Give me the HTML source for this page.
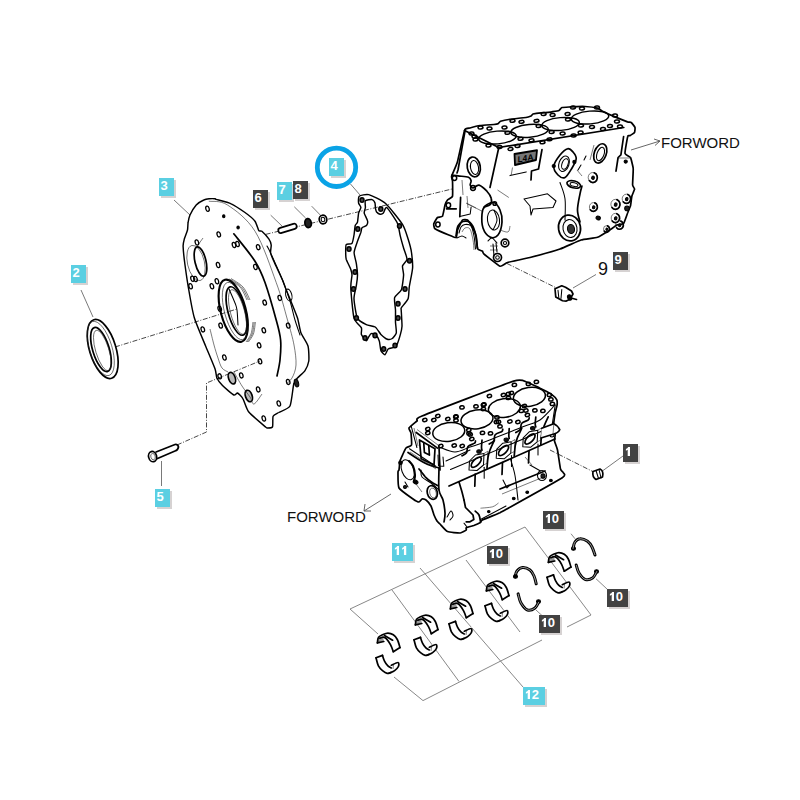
<!DOCTYPE html>
<html><head><meta charset="utf-8"><style>
html,body{margin:0;padding:0;background:#fff;width:800px;height:800px;overflow:hidden}
svg{display:block}
.ld{fill:none;stroke:#6a6a6a;stroke-width:0.9}
.lf{fill:none;stroke:#7a7a7a;stroke-width:0.9}
.dd{fill:none;stroke:#333;stroke-width:0.9;stroke-dasharray:5 1.6 1 1.6}
.ar{fill:none;stroke:#555;stroke-width:0.9}
.o{fill:none;stroke:#000;stroke-width:1.7;stroke-linejoin:round;stroke-linecap:round}
.o2{fill:none;stroke:#000;stroke-width:2.1;stroke-linecap:round}
.t{fill:none;stroke:#000;stroke-width:1.05;stroke-linejoin:round;stroke-linecap:round}
.t2{fill:none;stroke:#000;stroke-width:1.3}
.o3{fill:none;stroke:#000;stroke-width:3;stroke-linecap:round}
.w1{fill:none;stroke:#fff;stroke-width:0.6}
.wf{fill:#fff;stroke:#fff;stroke-width:2}
.t3{fill:none;stroke:#000;stroke-width:1.5}
.o14{fill:none;stroke:#000;stroke-width:1.45;stroke-linejoin:round;stroke-linecap:round}
.th{fill:none;stroke:#222;stroke-width:0.6}
.lt{font-family:"Liberation Sans",sans-serif;font-size:13px;font-weight:bold;fill:#fff}
.fw{font-family:"Liberation Sans",sans-serif;font-size:15px;fill:#111}
.n9{font-family:"Liberation Sans",sans-serif;font-size:18px;fill:#111}
</style></head><body>
<svg width="800" height="800" viewBox="0 0 800 800">
<rect width="800" height="800" fill="#fff"/>
<path d="M81 290 L93 317" class="ld"/>
<path d="M174 200 L190 215" class="ld"/>
<path d="M270.7 215.2 L282 226" class="ld"/>
<path d="M294.3 206.8 L305.6 218" class="ld"/>
<path d="M311.7 206.2 L321.6 216.4" class="ld"/>
<path d="M350.5 184 L360 195" class="ld"/>
<path d="M161.5 461 L161.5 486" class="ld"/>
<path d="M573 288 L596 274.5" class="ld"/>
<path d="M601 472 L623 456" class="ld"/>
<path d="M115 347 L237 309" class="dd"/>
<path d="M265.6 234.4 L452 189" class="dd"/>
<path d="M177 445 L206.5 432 L206.5 383 L260 361" class="dd"/>
<path d="M507 263.5 L556.5 288" class="dd"/>
<path d="M550 450 L594.7 472.5" class="dd"/>
<path d="M631 150 L660 141" class="ar"/>
<path d="M654 139 L660 141 L655 145.5" class="ar"/>
<path d="M391 494 L364 511" class="ar"/>
<path d="M365 504 L364 511 L371 511" class="ar"/>
<path d="M350 609 L525 527 L591 615 L567 627" class="lf"/>
<path d="M350 609 L378 634" class="lf"/>
<path d="M394 677 L423 700.6 L542 640" class="lf"/>
<path d="M392 590 L459 681.5" class="lf"/>
<path d="M420 568 L523 687" class="lf"/>
<path d="M466 560 L520 632" class="lf"/>
<path d="M571 533.75 L575 538.75" class="lf"/>
<path d="M596 578.75 L607 589" class="lf"/>
<path d="M536 610 L542.5 616" class="lf"/>
<ellipse cx="102.7" cy="349" rx="13.2" ry="30.6" transform="rotate(-17 102.7 349)" class="o" style="fill:#fff"/>
<ellipse cx="100.8" cy="348.5" rx="11.2" ry="28.2" transform="rotate(-17 100.8 348.5)" class="th"/>
<ellipse cx="101" cy="349.5" rx="8.25" ry="22.9" transform="rotate(-17 101 349.5)" class="o"/>
<ellipse cx="102.3" cy="350.5" rx="6.6" ry="21" transform="rotate(-17 102.3 350.5)" class="th"/>
<path d="M203.8 200.0 C205.0 199.4 207.9 198.9 209.0 198.8 C210.1 198.7 214.3 198.7 215.0 198.8 C215.7 198.8 214.6 198.9 216.2 199.4 C217.9 199.9 228.4 202.4 231.2 203.8 C234.1 205.1 242.6 210.8 245.0 212.5 C247.4 214.2 253.6 219.4 255.0 221.2 C256.4 223.1 258.1 229.6 258.8 230.6 C259.4 231.6 260.9 230.4 261.9 231.2 C262.9 232.1 267.8 237.4 268.8 238.8 C269.7 240.1 271.1 243.6 271.2 245.0 C271.4 246.4 270.3 251.2 270.6 253.0 C270.9 254.8 273.2 259.8 274.4 262.5 C275.6 265.2 281.3 277.2 282.5 280.0 C283.7 282.8 285.5 288.1 286.2 290.0 C287.0 291.9 288.9 296.2 290.0 299.0 C291.1 301.8 296.4 314.6 297.5 318.0 C298.6 321.4 299.9 330.2 301.0 333.0 C302.1 335.8 307.2 343.2 308.0 346.0 C308.8 348.8 309.1 358.5 308.8 361.0 C308.4 363.5 306.1 368.9 305.0 370.6 C303.9 372.3 298.6 376.7 297.5 378.0 C296.4 379.3 294.5 380.9 293.8 383.8 C293.0 386.6 291.5 403.1 290.0 406.0 C288.5 408.9 280.4 411.5 278.8 412.5 C277.1 413.5 273.7 414.8 273.1 416.2 C272.5 417.7 273.1 425.7 272.5 426.9 C271.9 428.1 268.2 428.0 267.5 428.0 C266.8 428.0 267.5 428.6 265.6 427.0 C263.7 425.4 251.0 414.8 248.8 412.0 C246.5 409.2 244.1 400.6 243.0 398.8 C241.9 396.9 238.4 393.4 237.5 393.0 C236.6 392.6 235.2 395.7 233.8 395.0 C232.2 394.3 224.2 387.3 222.5 385.6 C220.8 383.9 217.7 379.7 216.9 378.0 C216.2 376.3 216.1 371.9 215.0 368.8 C213.9 365.6 207.7 351.1 205.6 346.0 C203.5 340.9 196.1 323.6 194.4 318.0 C192.7 312.4 189.7 295.3 188.8 290.0 C187.8 284.7 185.6 269.4 185.0 265.0 C184.4 260.6 183.2 248.9 183.1 246.2 C183.0 243.6 184.0 240.4 184.4 238.8 C184.8 237.1 187.1 231.6 187.5 230.0 C187.9 228.4 187.8 224.0 188.1 222.5 C188.3 221.0 189.2 216.8 190.0 215.0 C190.8 213.2 194.9 206.5 196.2 205.0 C197.6 203.5 202.5 200.6 203.8 200.0 Z" class="o14"/>
<path d="M233.8 233.8 C237.3 238.3 249.8 253.1 255.0 261.2 C260.2 269.4 261.5 272.7 265.0 282.5 C268.5 292.3 273.6 310.4 276.2 320.0 C278.9 329.6 280.0 333.3 280.6 340.0 C281.2 346.7 280.6 354.0 280.0 360.0 C279.4 366.0 277.5 373.3 277.0 376.0" class="o"/>
<path d="M267.0 246.0 C267.6 247.2 268.0 247.3 270.6 253.0 C273.2 258.7 279.3 272.0 282.5 280.0 C285.7 288.0 287.9 294.3 290.0 301.0 C292.1 307.7 293.3 314.3 295.0 320.0 C296.7 325.7 299.2 332.5 300.0 335.0" class="t"/>
<path d="M208.8 201.2 C211.9 201.9 219.8 200.0 227.5 205.0 C235.2 210.0 246.9 218.3 255.0 231.2 C263.1 244.2 270.8 267.7 276.2 282.5 C281.7 297.3 284.5 309.6 287.5 320.0 C290.5 330.4 292.6 337.5 294.0 345.0 C295.4 352.5 296.3 359.5 296.0 365.0 C295.7 370.5 293.7 374.8 292.0 378.0 C290.3 381.2 287.0 383.0 286.0 384.0" class="th"/>
<ellipse cx="196" cy="263" rx="8.5" ry="18" transform="rotate(-13 196 263)" class="th"/>
<ellipse cx="200.5" cy="261.5" rx="5.5" ry="15" transform="rotate(-13 200.5 261.5)" class="o"/>
<path d="M198.0 245.0 L203.0 238.0" class="th"/>
<ellipse cx="233.25" cy="310.75" rx="12.5" ry="32" transform="rotate(-15 233.25 310.75)" class="o2"/>
<ellipse cx="235" cy="311" rx="10.5" ry="29.5" transform="rotate(-15 235 311)" class="th"/>
<ellipse cx="236.5" cy="311" rx="8.5" ry="25" transform="rotate(-15 236.5 311)" class="o"/>
<ellipse cx="237.5" cy="312" rx="7" ry="23" transform="rotate(-15 237.5 312)" class="th"/>
<path d="M229.0 289.0 C230.0 291.3 233.7 299.5 235.0 303.0 C236.3 306.5 236.5 306.3 237.0 310.0 C237.5 313.7 237.8 322.5 238.0 325.0" class="t"/>
<path d="M228.0 279.5 C230.0 280.8 236.8 283.6 240.0 287.0 C243.2 290.4 245.8 297.8 247.0 300.0" class="th"/>
<path d="M253.0 322.0 C252.7 324.0 252.2 330.7 251.0 334.0 C249.8 337.3 246.8 340.7 246.0 342.0" class="th"/>
<path d="M229.5 279.0 C231.5 280.3 238.3 283.5 241.5 287.0 C244.7 290.5 247.3 297.8 248.5 300.0" class="th"/>
<path d="M254.2 322.0 C253.9 324.0 253.4 330.7 252.2 334.0 C251.0 337.3 248.0 340.7 247.2 342.0" class="th"/>
<path d="M231.0 278.5 C233.0 279.9 239.8 283.4 243.0 287.0 C246.2 290.6 248.8 297.8 250.0 300.0" class="th"/>
<path d="M255.4 322.0 C255.1 324.0 254.6 330.7 253.4 334.0 C252.2 337.3 249.2 340.7 248.4 342.0" class="th"/>
<ellipse cx="288.75" cy="295" rx="3" ry="6" transform="rotate(-15 288.75 295)" class="t"/>
<ellipse cx="296.5" cy="383" rx="2" ry="4" transform="rotate(-15 296.5 383)" class="t" style="fill:#222"/>
<ellipse cx="207.5" cy="208.75" rx="1.7" ry="2.6" transform="rotate(-15 207.5 208.75)" class="t2"/>
<ellipse cx="218.75" cy="234.4" rx="1.7" ry="2.6" transform="rotate(-15 218.75 234.4)" class="t2"/>
<ellipse cx="234" cy="245" rx="1.7" ry="2.6" transform="rotate(-15 234 245)" class="t2"/>
<ellipse cx="237.5" cy="244" rx="1.7" ry="2.6" transform="rotate(-15 237.5 244)" class="t2"/>
<ellipse cx="258.2" cy="247.2" rx="1.7" ry="2.6" transform="rotate(-15 258.2 247.2)" class="t2"/>
<ellipse cx="255.4" cy="267" rx="1.7" ry="2.6" transform="rotate(-15 255.4 267)" class="t2"/>
<ellipse cx="218.1" cy="265" rx="1.7" ry="2.6" transform="rotate(-15 218.1 265)" class="t2"/>
<ellipse cx="196.9" cy="242.5" rx="1.7" ry="2.6" transform="rotate(-15 196.9 242.5)" class="t2"/>
<ellipse cx="192.5" cy="278.75" rx="1.7" ry="2.6" transform="rotate(-15 192.5 278.75)" class="t2"/>
<ellipse cx="195.5" cy="279" rx="1.7" ry="2.6" transform="rotate(-15 195.5 279)" class="t2"/>
<ellipse cx="190.6" cy="286.25" rx="1.7" ry="2.6" transform="rotate(-15 190.6 286.25)" class="t2"/>
<ellipse cx="211.9" cy="286.25" rx="1.7" ry="2.6" transform="rotate(-15 211.9 286.25)" class="t2"/>
<ellipse cx="216.9" cy="281.25" rx="1.7" ry="2.6" transform="rotate(-15 216.9 281.25)" class="t2"/>
<ellipse cx="264.7" cy="302.6" rx="1.7" ry="2.6" transform="rotate(-15 264.7 302.6)" class="t2"/>
<ellipse cx="279.75" cy="297.9" rx="1.7" ry="2.6" transform="rotate(-15 279.75 297.9)" class="t2"/>
<ellipse cx="219.7" cy="308.75" rx="1.7" ry="2.6" transform="rotate(-15 219.7 308.75)" class="t2"/>
<ellipse cx="202.8" cy="329.4" rx="1.7" ry="2.6" transform="rotate(-15 202.8 329.4)" class="t2"/>
<ellipse cx="220.65" cy="325.6" rx="1.7" ry="2.6" transform="rotate(-15 220.65 325.6)" class="t2"/>
<ellipse cx="263.8" cy="330.3" rx="1.7" ry="2.6" transform="rotate(-15 263.8 330.3)" class="t2"/>
<ellipse cx="288.2" cy="325.6" rx="1.7" ry="2.6" transform="rotate(-15 288.2 325.6)" class="t2"/>
<ellipse cx="259.1" cy="345.3" rx="1.7" ry="2.6" transform="rotate(-15 259.1 345.3)" class="t2"/>
<ellipse cx="224.4" cy="357.5" rx="1.7" ry="2.6" transform="rotate(-15 224.4 357.5)" class="t2"/>
<ellipse cx="260" cy="361.3" rx="1.7" ry="2.6" transform="rotate(-15 260 361.3)" class="t2"/>
<ellipse cx="219.7" cy="376.3" rx="1.7" ry="2.6" transform="rotate(-15 219.7 376.3)" class="t2"/>
<ellipse cx="241.3" cy="375.4" rx="1.7" ry="2.6" transform="rotate(-15 241.3 375.4)" class="t2"/>
<ellipse cx="258.2" cy="389.4" rx="1.7" ry="2.6" transform="rotate(-15 258.2 389.4)" class="t2"/>
<ellipse cx="288.2" cy="381.9" rx="1.7" ry="2.6" transform="rotate(-15 288.2 381.9)" class="t2"/>
<ellipse cx="278.8" cy="403.5" rx="1.7" ry="2.6" transform="rotate(-15 278.8 403.5)" class="t2"/>
<ellipse cx="263.8" cy="418.5" rx="1.7" ry="2.6" transform="rotate(-15 263.8 418.5)" class="t2"/>
<ellipse cx="223.75" cy="216.25" rx="1.2" ry="1.4" transform="rotate(0 223.75 216.25)" class="t" style="fill:#000"/>
<ellipse cx="238.1" cy="227.5" rx="1.2" ry="1.4" transform="rotate(0 238.1 227.5)" class="t" style="fill:#000"/>
<ellipse cx="231.9" cy="378.2" rx="3.3" ry="6" transform="rotate(-20 231.9 378.2)" class="o" style="fill:#bbb"/>
<ellipse cx="248.8" cy="396" rx="3.3" ry="6" transform="rotate(-20 248.8 396)" class="o" style="fill:#bbb"/>
<path d="M234.0 372.0 C235.3 374.3 239.3 381.8 242.0 386.0 C244.7 390.2 248.0 394.0 250.0 397.0 C252.0 400.0 252.0 404.5 254.0 404.0 C256.0 403.5 260.7 395.7 262.0 394.0" class="th"/>
<path d="M210.0 329.0 C210.7 331.7 212.7 340.2 214.0 345.0 C215.3 349.8 216.7 354.2 218.0 358.0 C219.3 361.8 220.3 365.7 222.0 368.0 C223.7 370.3 227.0 371.3 228.0 372.0" class="th"/>
<rect x="278" y="225.8" width="19" height="5.2" rx="2.6" transform="rotate(-17 287.5 228.4)" class="o" style="fill:#fff"/>
<ellipse cx="308.1" cy="223.1" rx="3.2" ry="4.5" transform="rotate(-10 308.1 223.1)" class="o" style="fill:#222"/>
<ellipse cx="323" cy="219.5" rx="3.8" ry="4.3" transform="rotate(-10 323 219.5)" class="o" style="fill:#fff"/>
<ellipse cx="323" cy="219.5" rx="1.8" ry="2.3" transform="rotate(-10 323 219.5)" class="t"/>
<path d="M156 452 L175 444.5 Q178 444 178.5 447 Q178 450 175 451 L157.5 458.5" class="o" style="fill:#fff"/>
<ellipse cx="152.6" cy="456.6" rx="4" ry="5.2" transform="rotate(-15 152.6 456.6)" class="o" style="fill:#fff"/>
<ellipse cx="153" cy="456.6" rx="2.2" ry="3.2" transform="rotate(-15 153 456.6)" class="th"/>
<path d="M359.2 196.2 C360.2 195.4 366.1 193.9 368.7 194.6 C371.3 195.3 382.2 200.5 385.6 203.5 C389.0 206.5 400.2 220.8 402.5 224.4 C404.8 228.0 407.2 236.2 408.1 239.0 C409.0 241.8 411.1 249.6 411.5 252.5 C411.9 255.4 412.8 264.5 412.6 268.0 C412.4 271.5 409.6 284.4 409.2 287.5 C408.8 290.6 408.9 296.7 408.1 298.7 C407.3 300.7 402.1 306.6 401.4 307.7 C400.7 308.8 401.1 308.1 401.2 310.0 C401.3 311.9 402.1 323.9 402.0 326.3 C401.9 328.7 400.9 332.6 400.4 334.4 C399.9 336.2 397.8 342.8 397.2 344.1 C396.6 345.4 394.8 346.9 393.9 347.4 C393.0 347.9 389.1 348.3 388.2 349.0 C387.3 349.7 385.7 354.5 385.0 354.7 C384.3 354.9 381.5 352.0 380.9 350.6 C380.3 349.3 379.9 342.5 379.3 340.9 C378.7 339.3 376.0 335.1 375.2 334.4 C374.4 333.7 371.8 333.4 371.1 333.6 C370.5 333.8 369.2 336.1 368.7 336.8 C368.2 337.5 367.0 341.1 366.3 340.9 C365.6 340.7 361.9 335.7 361.4 334.4 C360.9 333.1 362.1 329.5 361.4 327.9 C360.7 326.3 355.1 322.1 354.0 318.1 C352.9 314.1 350.9 291.8 350.8 287.5 C350.6 283.2 352.0 276.8 352.0 275.0 C352.0 273.2 351.3 271.0 350.8 269.4 C350.2 267.8 346.8 260.9 346.2 259.2 C345.7 257.5 345.7 254.0 345.7 252.5 C345.7 251.0 345.6 245.5 346.2 244.6 C346.9 243.7 351.1 244.5 351.9 243.5 C352.7 242.5 353.8 236.3 354.1 234.5 C354.4 232.7 354.9 226.7 355.2 225.5 C355.6 224.3 357.2 223.3 357.5 222.1 C357.8 220.9 358.3 214.6 358.6 213.1 C358.9 211.6 360.9 208.5 360.9 207.5 C360.9 206.5 358.8 204.1 358.6 203.0 C358.4 201.9 358.2 197.1 359.2 196.2 Z" class="o14"/>
<path d="M365.4 200.8 C366.1 200.0 371.1 199.4 372.1 199.6 C373.1 199.8 374.7 202.1 375.0 203.0 C375.3 203.9 375.3 207.7 375.5 208.6 C375.7 209.5 376.2 211.4 376.6 212.0 C377.1 212.6 379.3 214.1 380.0 214.2 C380.7 214.4 382.7 213.8 383.4 213.1 C384.1 212.4 385.4 206.5 386.8 207.5 C388.1 208.5 396.1 220.4 397.4 223.2 C398.7 226.0 399.6 233.1 400.2 235.6 C400.8 238.1 402.9 245.6 403.6 248.0 C404.3 250.4 407.1 257.4 407.0 259.2 C406.9 261.0 402.8 264.4 402.5 266.0 C402.2 267.6 403.7 272.6 403.6 275.0 C403.5 277.4 402.3 287.4 401.4 289.7 C400.5 292.0 395.2 295.6 394.6 297.6 C394.0 299.6 395.4 307.5 395.5 310.0 C395.6 312.5 395.4 319.9 395.5 322.2 C395.6 324.5 396.6 331.2 396.3 332.8 C396.0 334.4 393.2 337.9 392.3 338.5 C391.4 339.1 388.5 339.7 387.4 339.3 C386.3 338.9 382.1 335.6 380.9 334.4 C379.7 333.2 376.7 328.0 375.2 327.0 C373.7 326.0 368.1 325.5 366.3 324.6 C364.5 323.7 358.5 320.7 357.3 318.1 C356.1 315.5 354.1 302.0 354.0 298.7 C353.9 295.4 356.0 287.6 356.4 285.2 C356.8 282.8 357.5 277.1 357.5 275.0 C357.5 272.9 356.7 266.0 356.4 263.8 C356.1 261.5 354.0 254.8 354.1 252.5 C354.2 250.2 356.8 243.2 357.5 241.2 C358.2 239.2 360.4 233.6 360.9 232.2 C361.3 230.9 361.4 228.4 362.0 227.8 C362.6 227.1 365.9 226.2 366.5 225.5 C367.1 224.8 367.8 222.2 367.6 221.0 C367.4 219.8 364.5 214.4 364.2 213.1 C364.0 211.8 365.3 208.7 365.4 207.5 C365.5 206.3 364.7 201.5 365.4 200.8 Z" class="o14"/>
<ellipse cx="362" cy="200" rx="2" ry="2.3" transform="rotate(0 362 200)" class="t3" style="fill:#444"/>
<ellipse cx="380.8" cy="209" rx="2" ry="2.3" transform="rotate(0 380.8 209)" class="t3" style="fill:#444"/>
<ellipse cx="399.5" cy="226" rx="2" ry="2.3" transform="rotate(0 399.5 226)" class="t3" style="fill:#444"/>
<ellipse cx="357.8" cy="229" rx="2" ry="2.3" transform="rotate(0 357.8 229)" class="t3" style="fill:#444"/>
<ellipse cx="349" cy="249" rx="2" ry="2.3" transform="rotate(0 349 249)" class="t3" style="fill:#444"/>
<ellipse cx="409.5" cy="260.7" rx="2" ry="2.3" transform="rotate(0 409.5 260.7)" class="t3" style="fill:#444"/>
<ellipse cx="355" cy="272" rx="2" ry="2.3" transform="rotate(0 355 272)" class="t3" style="fill:#444"/>
<ellipse cx="353.5" cy="289" rx="2" ry="2.3" transform="rotate(0 353.5 289)" class="t3" style="fill:#444"/>
<ellipse cx="405" cy="289" rx="2" ry="2.3" transform="rotate(0 405 289)" class="t3" style="fill:#444"/>
<ellipse cx="398" cy="303.8" rx="2" ry="2.3" transform="rotate(0 398 303.8)" class="t3" style="fill:#444"/>
<ellipse cx="398" cy="318" rx="2" ry="2.3" transform="rotate(0 398 318)" class="t3" style="fill:#444"/>
<ellipse cx="356.4" cy="318" rx="2" ry="2.3" transform="rotate(0 356.4 318)" class="t3" style="fill:#444"/>
<ellipse cx="365" cy="338" rx="2" ry="2.3" transform="rotate(0 365 338)" class="t3" style="fill:#444"/>
<ellipse cx="375" cy="335.4" rx="2" ry="2.3" transform="rotate(0 375 335.4)" class="t3" style="fill:#444"/>
<ellipse cx="383.7" cy="349" rx="2" ry="2.3" transform="rotate(0 383.7 349)" class="t3" style="fill:#444"/>
<ellipse cx="395" cy="345.5" rx="2" ry="2.3" transform="rotate(0 395 345.5)" class="t3" style="fill:#444"/>
<path d="M464.6 130.2 C465.4 128.0 469.0 128.3 470.0 128.0 C471.0 127.7 478.4 125.7 480.0 125.5 C481.6 125.3 492.8 124.6 494.0 124.5 C495.2 124.4 497.6 124.0 498.0 123.8 C498.4 123.6 499.6 121.5 500.5 121.2 C501.4 120.9 510.3 119.2 512.0 119.0 C513.7 118.8 524.7 117.7 526.0 117.5 C527.3 117.3 530.5 116.2 531.0 116.0 C531.5 115.8 532.3 114.2 533.0 114.0 C533.7 113.8 539.7 112.9 541.0 112.8 C542.3 112.7 550.8 112.0 552.0 111.8 C553.2 111.6 558.3 110.8 559.0 110.5 C559.7 110.2 561.2 107.7 562.0 107.5 C562.8 107.3 569.7 107.0 571.2 106.9 C572.8 106.8 583.2 106.4 585.0 106.5 C586.8 106.6 596.3 107.8 597.5 108.1 C598.7 108.4 601.3 110.7 602.5 111.2 C603.7 111.8 613.3 116.2 615.0 116.9 C616.7 117.6 626.4 121.5 627.5 121.9 C628.6 122.3 630.8 122.1 631.2 122.5 C631.8 122.9 634.8 126.8 635.0 127.5 C635.2 128.2 634.8 132.0 634.5 132.5 C634.2 133.0 630.5 135.4 630.0 135.6 C629.5 135.8 628.1 135.0 627.8 136.2 C627.4 137.4 624.8 152.0 625.0 153.4 C625.2 154.8 630.0 156.5 630.5 157.5 C631.0 158.5 633.1 166.7 633.2 168.5 C633.4 170.3 632.5 183.6 632.6 185.0 C632.7 186.4 634.6 188.4 634.6 189.1 C634.6 189.8 632.2 194.9 631.9 196.0 C631.6 197.1 630.8 204.6 630.5 205.7 C630.2 206.8 628.2 211.3 627.8 212.5 C627.3 213.7 624.3 222.7 623.6 223.5 C622.9 224.3 617.6 224.6 616.8 225.0 C616.0 225.4 612.6 228.2 611.3 229.0 C610.0 229.8 599.5 236.6 597.5 237.3 C595.5 238.0 583.5 239.2 581.0 240.0 C578.5 240.8 563.4 247.8 560.0 249.0 C556.6 250.2 533.5 256.6 530.0 257.5 C526.5 258.4 509.5 261.9 507.5 262.5 C505.5 263.1 501.6 266.8 500.0 266.2 C498.4 265.7 484.9 254.8 483.8 253.8 C482.6 252.8 482.9 251.6 482.5 251.2 C482.1 250.9 477.9 249.8 477.5 248.8 C477.1 247.8 476.6 237.7 476.2 236.2 C475.9 234.8 473.1 228.6 472.5 227.5 C471.9 226.4 468.2 220.5 467.5 220.0 C466.8 219.5 463.2 219.3 462.5 220.0 C461.8 220.7 457.9 228.8 457.5 230.0 C457.1 231.2 456.8 237.2 456.2 237.5 C455.7 237.8 450.2 235.6 448.8 235.0 C447.3 234.4 436.0 229.5 435.0 228.8 C434.0 228.0 433.6 224.5 433.8 223.8 C433.9 223.0 436.9 218.0 437.5 217.5 C438.1 217.0 442.0 217.1 442.5 216.2 C443.0 215.4 444.7 206.1 445.0 205.0 C445.3 203.9 447.0 200.6 447.5 200.0 C448.0 199.4 452.2 197.5 452.5 196.2 C452.8 195.0 452.6 182.3 452.5 181.0 C452.4 179.7 451.3 177.5 451.6 176.2 C451.9 175.0 456.5 165.0 457.4 161.9 C458.3 158.8 463.8 132.5 464.6 130.2 Z" class="o"/>
<path d="M464.6 130.5 L498.8 147.5 L623.8 127.5" class="o"/>
<path d="M498.8 147.5 L490.0 187.5" class="o"/>
<path d="M465.0 131.0 L458.0 170.0 L457.0 173.0" class="o"/>
<path d="M623.6 136.5 L620.9 154.8 L618.1 157.5 L616.0 171.2" class="o"/>
<ellipse cx="625.7" cy="161.6" rx="1.6" ry="1.6" transform="rotate(0 625.7 161.6)" class="t" style="fill:#000"/>
<path d="M619.0 158.0 L631.0 158.0" class="th"/>
<ellipse cx="497.5" cy="137.5" rx="18.8" ry="6.4" transform="rotate(-5 497.5 137.5)" class="t3"/>
<ellipse cx="529.5" cy="130.8" rx="18.8" ry="6.4" transform="rotate(-5 529.5 130.8)" class="t3"/>
<ellipse cx="560.6" cy="124" rx="18.8" ry="6.4" transform="rotate(-5 560.6 124)" class="t3"/>
<ellipse cx="590" cy="117.5" rx="18.8" ry="6.4" transform="rotate(-5 590 117.5)" class="t3"/>
<ellipse cx="480.5" cy="127.5" rx="2.5" ry="1.4" transform="rotate(-6 480.5 127.5)" class="t3"/>
<ellipse cx="489.5" cy="128.5" rx="2.5" ry="1.4" transform="rotate(-6 489.5 128.5)" class="t3"/>
<ellipse cx="504.5" cy="127.5" rx="2.5" ry="1.4" transform="rotate(-6 504.5 127.5)" class="t3"/>
<ellipse cx="475.5" cy="139.5" rx="2.5" ry="1.4" transform="rotate(-6 475.5 139.5)" class="t3"/>
<ellipse cx="488.5" cy="145.5" rx="2.5" ry="1.4" transform="rotate(-6 488.5 145.5)" class="t3"/>
<ellipse cx="499.5" cy="147.0" rx="2.5" ry="1.4" transform="rotate(-6 499.5 147.0)" class="t3"/>
<ellipse cx="510.5" cy="149.0" rx="2.5" ry="1.4" transform="rotate(-6 510.5 149.0)" class="t3"/>
<ellipse cx="517.5" cy="146.0" rx="2.5" ry="1.4" transform="rotate(-6 517.5 146.0)" class="t3"/>
<ellipse cx="471.5" cy="133.5" rx="2.5" ry="1.4" transform="rotate(-6 471.5 133.5)" class="t3"/>
<ellipse cx="474.5" cy="136.5" rx="2.5" ry="1.4" transform="rotate(-6 474.5 136.5)" class="t3"/>
<ellipse cx="512.5" cy="120.8" rx="2.5" ry="1.4" transform="rotate(-6 512.5 120.8)" class="t3"/>
<ellipse cx="521.5" cy="121.8" rx="2.5" ry="1.4" transform="rotate(-6 521.5 121.8)" class="t3"/>
<ellipse cx="536.5" cy="120.8" rx="2.5" ry="1.4" transform="rotate(-6 536.5 120.8)" class="t3"/>
<ellipse cx="507.5" cy="132.8" rx="2.5" ry="1.4" transform="rotate(-6 507.5 132.8)" class="t3"/>
<ellipse cx="520.5" cy="138.8" rx="2.5" ry="1.4" transform="rotate(-6 520.5 138.8)" class="t3"/>
<ellipse cx="531.5" cy="140.3" rx="2.5" ry="1.4" transform="rotate(-6 531.5 140.3)" class="t3"/>
<ellipse cx="542.5" cy="142.3" rx="2.5" ry="1.4" transform="rotate(-6 542.5 142.3)" class="t3"/>
<ellipse cx="549.5" cy="139.3" rx="2.5" ry="1.4" transform="rotate(-6 549.5 139.3)" class="t3"/>
<ellipse cx="543.6" cy="114" rx="2.5" ry="1.4" transform="rotate(-6 543.6 114)" class="t3"/>
<ellipse cx="552.6" cy="115" rx="2.5" ry="1.4" transform="rotate(-6 552.6 115)" class="t3"/>
<ellipse cx="567.6" cy="114" rx="2.5" ry="1.4" transform="rotate(-6 567.6 114)" class="t3"/>
<ellipse cx="538.6" cy="126" rx="2.5" ry="1.4" transform="rotate(-6 538.6 126)" class="t3"/>
<ellipse cx="551.6" cy="132" rx="2.5" ry="1.4" transform="rotate(-6 551.6 132)" class="t3"/>
<ellipse cx="562.6" cy="133.5" rx="2.5" ry="1.4" transform="rotate(-6 562.6 133.5)" class="t3"/>
<ellipse cx="573.6" cy="135.5" rx="2.5" ry="1.4" transform="rotate(-6 573.6 135.5)" class="t3"/>
<ellipse cx="580.6" cy="132.5" rx="2.5" ry="1.4" transform="rotate(-6 580.6 132.5)" class="t3"/>
<ellipse cx="573" cy="107.5" rx="2.5" ry="1.4" transform="rotate(-6 573 107.5)" class="t3"/>
<ellipse cx="582" cy="108.5" rx="2.5" ry="1.4" transform="rotate(-6 582 108.5)" class="t3"/>
<ellipse cx="597" cy="107.5" rx="2.5" ry="1.4" transform="rotate(-6 597 107.5)" class="t3"/>
<ellipse cx="568" cy="119.5" rx="2.5" ry="1.4" transform="rotate(-6 568 119.5)" class="t3"/>
<ellipse cx="581" cy="125.5" rx="2.5" ry="1.4" transform="rotate(-6 581 125.5)" class="t3"/>
<ellipse cx="592" cy="127.0" rx="2.5" ry="1.4" transform="rotate(-6 592 127.0)" class="t3"/>
<ellipse cx="603" cy="129.0" rx="2.5" ry="1.4" transform="rotate(-6 603 129.0)" class="t3"/>
<ellipse cx="610" cy="126.0" rx="2.5" ry="1.4" transform="rotate(-6 610 126.0)" class="t3"/>
<ellipse cx="615" cy="115.5" rx="2.5" ry="1.4" transform="rotate(-6 615 115.5)" class="t3"/>
<ellipse cx="617" cy="121.5" rx="2.5" ry="1.4" transform="rotate(-6 617 121.5)" class="t3"/>
<ellipse cx="620" cy="126.5" rx="2.5" ry="1.4" transform="rotate(-6 620 126.5)" class="t3"/>
<ellipse cx="473.75" cy="166.9" rx="6.5" ry="10" transform="rotate(-10 473.75 166.9)" class="o"/>
<ellipse cx="474.5" cy="167.5" rx="4" ry="7" transform="rotate(-10 474.5 167.5)" class="t"/>
<path d="M452.0 175.0 C453.0 175.2 455.2 175.5 458.0 175.9 C460.8 176.3 466.3 176.4 468.5 177.2 C470.7 178.1 470.8 179.4 471.1 180.8 C471.4 182.1 469.9 183.9 470.2 185.1 C470.6 186.3 471.5 188.0 473.0 188.0 C474.5 188.0 476.7 184.6 479.0 185.1 C481.3 185.6 484.9 189.1 486.9 191.2 C488.9 193.4 490.7 196.1 491.2 198.2 C491.8 200.4 491.6 202.9 490.4 204.4 C489.2 205.9 485.3 206.6 484.2 207.0" class="o"/>
<path d="M460.6 197.4 C460.5 200.6 459.9 213.4 459.8 216.6" class="o"/>
<path d="M446.6 208.8 L456.2 208.8" class="o"/>
<path d="M466.8 203.5 L482.5 211.4" class="th"/>
<path d="M459.8 216.6 L470.2 214.0 L471.1 207.0" class="t"/>
<ellipse cx="454.5" cy="178.1" rx="2.2" ry="2.4" transform="rotate(0 454.5 178.1)" class="t3"/>
<ellipse cx="473" cy="188" rx="2.4" ry="2.4" transform="rotate(0 473 188)" class="t3"/>
<ellipse cx="448.4" cy="205.25" rx="2.2" ry="2.4" transform="rotate(0 448.4 205.25)" class="t3"/>
<ellipse cx="437.9" cy="224.5" rx="2.2" ry="2.4" transform="rotate(0 437.9 224.5)" class="t3"/>
<ellipse cx="494.75" cy="203.5" rx="1.8" ry="1.8" transform="rotate(0 494.75 203.5)" class="t3"/>
<path d="M466.0 203.0 L476.0 208.0" class="th"/>
<path d="M462.0 180.0 L463.0 195.0" class="th"/>
<path d="M467.0 196.0 L468.0 208.0" class="th"/>
<path d="M485.0 206.2 C487.0 204.3 491.2 201.9 493.8 202.5 C496.2 203.1 498.6 206.8 500.0 210.0 C501.4 213.2 502.3 217.8 502.0 222.0 C501.7 226.2 500.0 232.5 498.0 235.0 C496.0 237.5 492.5 238.2 490.0 237.0 C487.5 235.8 484.3 231.8 483.0 228.0 C481.7 224.2 481.7 217.6 482.0 214.0 C482.3 210.4 483.0 208.2 485.0 206.2 Z" class="o"/>
<ellipse cx="493.5" cy="220" rx="6" ry="10" transform="rotate(-8 493.5 220)" class="t"/>
<path d="M494.0 210.0 C494.5 211.7 497.2 216.7 497.0 220.0 C496.8 223.3 493.7 228.3 493.0 230.0" class="t"/>
<path d="M456.0 236.0 C456.3 234.3 456.8 228.4 458.0 226.0 C459.2 223.6 461.0 222.1 463.0 221.5 C465.0 220.9 468.0 220.8 470.0 222.5 C472.0 224.2 473.8 227.8 475.0 232.0 C476.2 236.2 477.1 245.3 477.5 248.0" class="o"/>
<path d="M459.0 233.0 C459.3 232.0 460.0 228.4 461.0 227.0 C462.0 225.6 463.3 224.7 465.0 224.5 C466.7 224.3 469.5 224.1 471.0 226.0 C472.5 227.9 473.2 232.2 474.0 236.0 C474.8 239.8 475.2 246.8 475.5 249.0" class="t"/>
<path d="M462.0 232.0 C462.5 231.3 463.7 228.5 465.0 228.0 C466.3 227.5 468.7 227.0 470.0 229.0 C471.3 231.0 472.3 236.5 473.0 240.0 C473.7 243.5 473.8 248.3 474.0 250.0" class="th"/>
<path d="M457.0 238.0 C457.8 237.7 460.5 236.0 462.0 236.0 C463.5 236.0 465.3 237.7 466.0 238.0" class="t"/>
<path d="M488.0 241.0 C488.7 240.5 490.5 237.7 492.0 238.0 C493.5 238.3 496.2 242.2 497.0 243.0" class="t"/>
<ellipse cx="505" cy="243" rx="3.8" ry="3.8" transform="rotate(0 505 243)" class="o"/>
<ellipse cx="505" cy="243" rx="1.6" ry="1.6" transform="rotate(0 505 243)" class="t"/>
<ellipse cx="497.5" cy="257.5" rx="4" ry="4" transform="rotate(0 497.5 257.5)" class="o"/>
<ellipse cx="497.5" cy="257.5" rx="1.8" ry="1.8" transform="rotate(0 497.5 257.5)" class="t"/>
<path d="M493.0 244.0 L494.0 256.0" class="t"/>
<path d="M496.0 243.0 L497.0 252.0" class="t"/>
<path d="M490.0 246.0 L498.0 246.0" class="th"/>
<path d="M490.0 250.0 L498.0 250.0" class="th"/>
<path d="M500.0 230.0 C501.3 230.3 506.3 232.7 508.0 232.0 C509.7 231.3 509.7 227.0 510.0 226.0" class="th"/>
<path d="M514.5 154 L537 150.25 L536 160 L515 165 Z" style="fill:#777;stroke:#000;stroke-width:1.8;stroke-linejoin:round"/>
<text x="518" y="162.5" font-family="Liberation Sans" font-size="8.5" font-weight="bold" font-style="italic" fill="#000" transform="rotate(-10 518 162.5)">L4A</text>
<path d="M512.5 167.5 L511.2 175.0" class="th"/>
<path d="M542.0 149.5 L538.5 169.0 L531.5 171.0 L531.0 180.0" class="o"/>
<path d="M510.0 175.6 L526.2 171.9" class="t"/>
<path d="M497.5 190.0 L508.8 197.5" class="th"/>
<path d="M553.8 166.2 C554.1 162.9 557.7 157.9 560.0 155.0 C562.3 152.1 565.3 149.2 567.5 148.8 C569.7 148.2 571.5 150.3 573.0 152.0 C574.5 153.7 576.4 156.1 576.2 158.8 C576.1 161.4 573.9 164.9 572.0 168.0 C570.1 171.1 567.3 176.3 565.0 177.5 C562.7 178.7 559.9 176.9 558.0 175.0 C556.1 173.1 553.4 169.6 553.8 166.2 Z" class="o"/>
<ellipse cx="564" cy="163.75" rx="5" ry="8" transform="rotate(20 564 163.75)" class="t"/>
<ellipse cx="565" cy="164" rx="3" ry="5.5" transform="rotate(20 565 164)" class="t"/>
<ellipse cx="553.75" cy="166" rx="1.6" ry="1.6" transform="rotate(0 553.75 166)" class="t" style="fill:#000"/>
<ellipse cx="574.4" cy="161.9" rx="1.6" ry="1.6" transform="rotate(0 574.4 161.9)" class="t" style="fill:#000"/>
<path d="M578.0 170.0 L581.0 165.0" class="t"/>
<path d="M584.0 160.0 L586.0 156.0" class="t"/>
<ellipse cx="600.25" cy="153.4" rx="6" ry="10" transform="rotate(20 600.25 153.4)" class="o"/>
<ellipse cx="600.5" cy="154" rx="3.5" ry="7" transform="rotate(20 600.5 154)" class="t"/>
<path d="M590.0 160.0 L594.0 145.0" class="th"/>
<ellipse cx="573.75" cy="184.4" rx="7" ry="3.5" transform="rotate(15 573.75 184.4)" class="o"/>
<ellipse cx="574" cy="184.6" rx="4" ry="1.8" transform="rotate(15 574 184.6)" class="t"/>
<path d="M560.0 182.5 C560.8 185.2 564.2 192.5 565.0 198.8 C565.8 205.0 565.0 216.5 565.0 220.0" class="t"/>
<path d="M581.9 186.2 C581.6 187.5 580.7 189.8 580.0 193.8 C579.3 197.7 577.5 205.3 577.5 210.0 C577.5 214.7 579.6 220.0 580.0 222.0" class="o"/>
<ellipse cx="569.5" cy="228" rx="11" ry="13" transform="rotate(-10 569.5 228)" class="o"/>
<ellipse cx="570" cy="228.5" rx="7" ry="9" transform="rotate(-10 570 228.5)" class="t"/>
<ellipse cx="571" cy="229" rx="3.5" ry="4.5" transform="rotate(-10 571 229)" class="t" style="fill:#333"/>
<path d="M524.0 199.0 L547.5 193.8 L556.0 201.0 L553.0 207.5 L533.0 209.0 L531.0 215.0 L530.0 206.0 L524.0 199.0" class="t"/>
<ellipse cx="592.7" cy="177.45" rx="4.5" ry="4.95" transform="rotate(0 592.7 177.45)" class="th"/>
<path d="M594.2 172.8 A4.5 5.0 0 1 1 589.3 180.6" class="o"/>
<ellipse cx="593.0" cy="177.75" rx="1.3499999999999999" ry="1.71" transform="rotate(20 593.0 177.75)" class="t" style="fill:#111"/>
<ellipse cx="593.4" cy="207" rx="4" ry="4.4" transform="rotate(0 593.4 207)" class="th"/>
<path d="M594.8 202.9 A4 4.4 0 1 1 590.3 209.8" class="o"/>
<ellipse cx="593.6999999999999" cy="207.3" rx="1.2" ry="1.52" transform="rotate(20 593.6999999999999 207.3)" class="t" style="fill:#111"/>
<ellipse cx="615.4" cy="204.3" rx="4.5" ry="4.95" transform="rotate(0 615.4 204.3)" class="th"/>
<path d="M616.9 199.6 A4.5 5.0 0 1 1 612.0 207.5" class="o"/>
<ellipse cx="615.6999999999999" cy="204.60000000000002" rx="1.3499999999999999" ry="1.71" transform="rotate(20 615.6999999999999 204.60000000000002)" class="t" style="fill:#111"/>
<ellipse cx="626.4" cy="198.8" rx="4.2" ry="4.620000000000001" transform="rotate(0 626.4 198.8)" class="th"/>
<path d="M627.8 194.5 A4.2 4.6 0 1 1 623.2 201.8" class="o"/>
<ellipse cx="626.6999999999999" cy="199.10000000000002" rx="1.26" ry="1.596" transform="rotate(20 626.6999999999999 199.10000000000002)" class="t" style="fill:#111"/>
<ellipse cx="615.4" cy="218" rx="4.2" ry="4.620000000000001" transform="rotate(0 615.4 218)" class="th"/>
<path d="M616.8 213.7 A4.2 4.6 0 1 1 612.2 221.0" class="o"/>
<ellipse cx="615.6999999999999" cy="218.3" rx="1.26" ry="1.596" transform="rotate(20 615.6999999999999 218.3)" class="t" style="fill:#111"/>
<ellipse cx="619.5" cy="225" rx="3.8" ry="4.18" transform="rotate(0 619.5 225)" class="th"/>
<path d="M620.8 221.1 A3.8 4.2 0 1 1 616.6 227.7" class="o"/>
<ellipse cx="619.8" cy="225.3" rx="1.14" ry="1.444" transform="rotate(20 619.8 225.3)" class="t" style="fill:#111"/>
<ellipse cx="606.5" cy="229" rx="3" ry="3.3000000000000003" transform="rotate(0 606.5 229)" class="th"/>
<path d="M607.5 225.9 A3 3.3 0 1 1 604.2 231.1" class="o"/>
<ellipse cx="606.8" cy="229.3" rx="0.8999999999999999" ry="1.1400000000000001" transform="rotate(20 606.8 229.3)" class="t" style="fill:#111"/>
<ellipse cx="598.2" cy="218" rx="2.2" ry="1.8" transform="rotate(20 598.2 218)" class="t" style="fill:#111"/>
<ellipse cx="627" cy="208.4" rx="2.3" ry="2.3" transform="rotate(0 627 208.4)" class="t" style="fill:#222"/>
<path d="M577.0 170.0 C577.8 171.0 581.2 175.0 582.0 176.0" class="th"/>
<path d="M555 288.75 L561.75 285.75 L565.5 287.25 L571.5 291 L573 294 L570 299.25 L566.25 301.1 L562.5 300.75 L555.75 297 Z" class="o" style="fill:#fff"/>
<path d="M558.0 290.2 L558.8 297.8" class="t"/>
<path d="M561.8 289.5 L561.0 298.5" class="t"/>
<ellipse cx="569.6" cy="297.5" rx="2" ry="2.8" transform="rotate(-20 569.6 297.5)" class="t" style="fill:#000"/>
<path d="M571.0 298.0 L576.5 299.5" class="o"/>
<path d="M409.0 428.0 C409.5 427.0 415.9 422.0 417.0 421.0 C418.1 420.0 413.9 419.3 422.0 416.0 C430.1 412.7 504.9 383.9 513.6 381.1 C522.4 378.3 524.8 381.7 527.0 382.2 C529.2 382.8 537.4 386.9 539.5 387.9 C541.6 388.9 550.5 393.6 551.9 394.6 C553.3 395.6 556.3 398.9 556.8 399.8 C557.2 400.6 557.2 403.9 557.1 405.0 C557.0 406.1 555.5 411.0 555.2 412.5 C555.0 414.0 553.8 421.2 553.8 423.0 C553.8 424.8 555.2 432.8 555.2 434.2 C555.3 435.8 554.3 439.7 554.5 441.0 C554.7 442.3 557.0 447.7 557.5 450.0 C558.0 452.3 560.0 467.1 560.5 469.0 C561.0 470.9 563.1 471.8 563.2 472.5 C563.4 473.2 567.0 474.7 562.3 477.8 C557.6 480.9 511.5 506.4 506.3 509.3 C501.1 512.2 502.0 511.8 500.0 512.8 C498.0 513.7 483.6 519.4 482.0 520.2 C480.4 521.1 481.2 522.1 480.5 522.5 C479.8 522.9 474.9 525.1 473.8 525.5 C472.6 525.9 466.9 527.4 466.2 527.8 C465.6 528.1 466.8 529.6 466.2 530.0 C465.8 530.4 461.8 532.9 460.2 533.0 C458.7 533.1 449.2 532.2 447.5 531.5 C445.8 530.8 440.9 524.9 440.0 524.0 C439.1 523.1 437.5 521.8 437.0 521.0 C436.5 520.2 434.5 516.2 434.0 515.0 C433.5 513.8 431.7 507.2 431.0 506.0 C430.3 504.8 426.8 500.6 426.0 500.0 C425.2 499.4 422.6 498.8 422.0 499.0 C421.4 499.2 419.8 502.0 419.0 502.0 C418.2 502.0 414.7 500.2 413.0 499.0 C411.3 497.8 400.2 490.2 399.0 488.0 C397.8 485.8 398.0 473.5 398.0 472.0 C398.0 470.5 398.8 470.9 399.0 470.0 C399.2 469.1 399.7 462.3 400.0 461.0 C400.3 459.7 402.5 455.1 403.0 454.0 C403.5 452.9 405.3 448.8 406.0 448.0 C406.7 447.2 411.1 446.2 411.5 445.0 C411.9 443.8 411.2 434.4 411.0 433.0 C410.8 431.6 408.5 429.0 409.0 428.0 Z" class="o"/>
<path d="M416.2 432.5 L437.5 448.1" class="o"/>
<path d="M417.0 429.5 L438.0 445.0" class="th"/>
<path d="M411.2 426.2 L416.9 447.5" class="t"/>
<path d="M414.0 428.0 L418.0 446.0" class="th"/>
<path d="M439.0 447.0 L440.0 470.0" class="o"/>
<path d="M419.4 440.0 L435.0 448.8 L434.0 465.0 L421.2 458.8 L419.4 440.0" class="o"/>
<path d="M423.8 443.5 L424.4 452.5 L429.4 455.0 L428.8 446.0" class="o"/>
<path d="M438.0 455.0 L438.5 466.0 L443.8 466.2 L443.0 457.0" class="t"/>
<path d="M408.0 452.5 C410.6 454.2 419.6 460.2 423.8 462.5 C427.9 464.8 430.4 465.3 433.0 466.2 C435.6 467.2 438.3 467.7 439.4 468.0" class="o"/>
<path d="M439.0 447.0 C441.7 447.8 449.8 452.0 455.0 452.0 C460.2 452.0 465.5 448.5 470.0 447.0 C474.5 445.5 477.5 444.7 482.0 443.0 C486.5 441.3 492.3 438.8 497.0 437.0 C501.7 435.2 505.3 433.8 510.0 432.0 C514.7 430.2 520.0 428.0 525.0 426.0 C530.0 424.0 535.0 423.5 540.0 420.0 C545.0 416.5 552.5 407.5 555.0 405.0" class="t"/>
<ellipse cx="448.75" cy="432" rx="16.1" ry="9.4" transform="rotate(-8 448.75 432)" class="t3"/>
<ellipse cx="477" cy="419.4" rx="16.1" ry="9.4" transform="rotate(-8 477 419.4)" class="t3"/>
<ellipse cx="504.4" cy="408" rx="16.1" ry="9.4" transform="rotate(-8 504.4 408)" class="t3"/>
<ellipse cx="529.4" cy="396.9" rx="16.1" ry="9.4" transform="rotate(-8 529.4 396.9)" class="t3"/>
<ellipse cx="427.8" cy="429" rx="2.2" ry="1.6" transform="rotate(-10 427.8 429)" class="t3"/>
<ellipse cx="427.8" cy="433" rx="2.2" ry="1.6" transform="rotate(-10 427.8 433)" class="t3"/>
<ellipse cx="433.8" cy="420" rx="2.2" ry="1.6" transform="rotate(-10 433.8 420)" class="t3"/>
<ellipse cx="447.8" cy="419" rx="2.2" ry="1.6" transform="rotate(-10 447.8 419)" class="t3"/>
<ellipse cx="455.8" cy="417" rx="2.2" ry="1.6" transform="rotate(-10 455.8 417)" class="t3"/>
<ellipse cx="468.8" cy="430" rx="2.2" ry="1.6" transform="rotate(-10 468.8 430)" class="t3"/>
<ellipse cx="470.2" cy="434.5" rx="2.2" ry="1.6" transform="rotate(-10 470.2 434.5)" class="t3"/>
<ellipse cx="471.8" cy="439" rx="2.2" ry="1.6" transform="rotate(-10 471.8 439)" class="t3"/>
<ellipse cx="440.8" cy="446" rx="2.2" ry="1.6" transform="rotate(-10 440.8 446)" class="t3"/>
<ellipse cx="454.2" cy="445.5" rx="2.2" ry="1.6" transform="rotate(-10 454.2 445.5)" class="t3"/>
<ellipse cx="462.2" cy="446" rx="2.2" ry="1.6" transform="rotate(-10 462.2 446)" class="t3"/>
<ellipse cx="424.8" cy="420" rx="2.2" ry="1.6" transform="rotate(-10 424.8 420)" class="t3"/>
<ellipse cx="437.8" cy="416" rx="2.2" ry="1.6" transform="rotate(-10 437.8 416)" class="t3"/>
<ellipse cx="456" cy="416.4" rx="2.2" ry="1.6" transform="rotate(-10 456 416.4)" class="t3"/>
<ellipse cx="456" cy="420.4" rx="2.2" ry="1.6" transform="rotate(-10 456 420.4)" class="t3"/>
<ellipse cx="462" cy="407.4" rx="2.2" ry="1.6" transform="rotate(-10 462 407.4)" class="t3"/>
<ellipse cx="476" cy="406.4" rx="2.2" ry="1.6" transform="rotate(-10 476 406.4)" class="t3"/>
<ellipse cx="484" cy="404.4" rx="2.2" ry="1.6" transform="rotate(-10 484 404.4)" class="t3"/>
<ellipse cx="497" cy="417.4" rx="2.2" ry="1.6" transform="rotate(-10 497 417.4)" class="t3"/>
<ellipse cx="498.5" cy="421.9" rx="2.2" ry="1.6" transform="rotate(-10 498.5 421.9)" class="t3"/>
<ellipse cx="500" cy="426.4" rx="2.2" ry="1.6" transform="rotate(-10 500 426.4)" class="t3"/>
<ellipse cx="469" cy="433.4" rx="2.2" ry="1.6" transform="rotate(-10 469 433.4)" class="t3"/>
<ellipse cx="482.5" cy="432.9" rx="2.2" ry="1.6" transform="rotate(-10 482.5 432.9)" class="t3"/>
<ellipse cx="490.5" cy="433.4" rx="2.2" ry="1.6" transform="rotate(-10 490.5 433.4)" class="t3"/>
<ellipse cx="483.4" cy="405" rx="2.2" ry="1.6" transform="rotate(-10 483.4 405)" class="t3"/>
<ellipse cx="483.4" cy="409" rx="2.2" ry="1.6" transform="rotate(-10 483.4 409)" class="t3"/>
<ellipse cx="489.4" cy="396" rx="2.2" ry="1.6" transform="rotate(-10 489.4 396)" class="t3"/>
<ellipse cx="503.4" cy="395" rx="2.2" ry="1.6" transform="rotate(-10 503.4 395)" class="t3"/>
<ellipse cx="511.4" cy="393" rx="2.2" ry="1.6" transform="rotate(-10 511.4 393)" class="t3"/>
<ellipse cx="524.4" cy="406" rx="2.2" ry="1.6" transform="rotate(-10 524.4 406)" class="t3"/>
<ellipse cx="525.9" cy="410.5" rx="2.2" ry="1.6" transform="rotate(-10 525.9 410.5)" class="t3"/>
<ellipse cx="527.4" cy="415" rx="2.2" ry="1.6" transform="rotate(-10 527.4 415)" class="t3"/>
<ellipse cx="496.4" cy="422" rx="2.2" ry="1.6" transform="rotate(-10 496.4 422)" class="t3"/>
<ellipse cx="509.9" cy="421.5" rx="2.2" ry="1.6" transform="rotate(-10 509.9 421.5)" class="t3"/>
<ellipse cx="517.9" cy="422" rx="2.2" ry="1.6" transform="rotate(-10 517.9 422)" class="t3"/>
<ellipse cx="508.4" cy="393.9" rx="2.2" ry="1.6" transform="rotate(-10 508.4 393.9)" class="t3"/>
<ellipse cx="508.4" cy="397.9" rx="2.2" ry="1.6" transform="rotate(-10 508.4 397.9)" class="t3"/>
<ellipse cx="514.4" cy="384.9" rx="2.2" ry="1.6" transform="rotate(-10 514.4 384.9)" class="t3"/>
<ellipse cx="528.4" cy="383.9" rx="2.2" ry="1.6" transform="rotate(-10 528.4 383.9)" class="t3"/>
<ellipse cx="536.4" cy="381.9" rx="2.2" ry="1.6" transform="rotate(-10 536.4 381.9)" class="t3"/>
<ellipse cx="549.4" cy="394.9" rx="2.2" ry="1.6" transform="rotate(-10 549.4 394.9)" class="t3"/>
<ellipse cx="550.9" cy="399.4" rx="2.2" ry="1.6" transform="rotate(-10 550.9 399.4)" class="t3"/>
<ellipse cx="552.4" cy="403.9" rx="2.2" ry="1.6" transform="rotate(-10 552.4 403.9)" class="t3"/>
<ellipse cx="521.4" cy="410.9" rx="2.2" ry="1.6" transform="rotate(-10 521.4 410.9)" class="t3"/>
<ellipse cx="534.9" cy="410.4" rx="2.2" ry="1.6" transform="rotate(-10 534.9 410.4)" class="t3"/>
<ellipse cx="542.9" cy="410.9" rx="2.2" ry="1.6" transform="rotate(-10 542.9 410.9)" class="t3"/>
<path d="M469.5 461.0 L475.5 455.0 L484.0 453.5 L483.5 465.0 L477.0 470.5 L469.0 470.0 Z" class="t"/>
<path d="M484.0 453.5 L487.8 451.2 L487.2 463.2 L483.5 465.0" class="th"/>
<ellipse cx="476.25" cy="462.25" rx="3" ry="6.5" transform="rotate(45 476.25 462.25)" class="o"/>
<ellipse cx="479.0" cy="451.5" rx="2.2" ry="1.8" transform="rotate(0 479.0 451.5)" class="t" style="fill:#111"/>
<path d="M475.5 441.0 C475.3 441.4 475.8 442.3 474.5 443.2 C473.2 444.2 469.3 444.9 468.0 446.5 C466.7 448.1 467.5 451.2 466.5 452.8 C465.5 454.3 462.8 455.2 462.0 455.8" class="o"/>
<path d="M482.0 440.2 C481.9 441.4 481.5 445.6 481.5 447.2 C481.5 448.9 481.9 449.8 482.0 450.2" class="o"/>
<path d="M494.5 440.0 C493.8 441.7 491.1 447.1 490.0 450.0 C488.9 452.9 488.5 454.5 488.0 457.5 C487.5 460.5 487.2 466.2 487.0 468.0" class="o"/>
<path d="M475.2 474.2 L474.8 486.2" class="o"/>
<path d="M484.2 467.2 L484.2 478.2" class="t"/>
<path d="M496.8 449.2 L502.8 443.2 L511.2 441.8 L510.8 453.2 L504.2 458.8 L496.2 458.2 Z" class="t"/>
<path d="M511.2 441.8 L515.0 439.5 L514.5 451.5 L510.8 453.2" class="th"/>
<ellipse cx="503.5" cy="450.5" rx="3" ry="6.5" transform="rotate(45 503.5 450.5)" class="o"/>
<ellipse cx="506.25" cy="439.75" rx="2.2" ry="1.8" transform="rotate(0 506.25 439.75)" class="t" style="fill:#111"/>
<path d="M502.8 429.2 C502.6 429.6 503.0 430.6 501.8 431.5 C500.5 432.4 496.6 433.2 495.2 434.8 C493.9 436.3 494.8 439.5 493.8 441.0 C492.8 442.5 490.0 443.5 489.2 444.0" class="o"/>
<path d="M509.2 428.5 C509.2 429.7 508.8 433.8 508.8 435.5 C508.8 437.2 509.2 438.0 509.2 438.5" class="o"/>
<path d="M521.8 428.2 C521.0 429.9 518.3 435.3 517.2 438.2 C516.2 441.2 515.8 442.8 515.2 445.8 C514.8 448.8 514.4 454.5 514.2 456.2" class="o"/>
<path d="M502.5 462.5 L502.0 474.5" class="o"/>
<path d="M511.5 455.5 L511.5 466.5" class="t"/>
<path d="M523.2 437.8 L529.2 431.8 L537.8 430.2 L537.2 441.8 L530.8 447.2 L522.8 446.8 Z" class="t"/>
<path d="M537.8 430.2 L541.5 428.0 L541.0 440.0 L537.2 441.8" class="th"/>
<ellipse cx="530" cy="439" rx="3" ry="6.5" transform="rotate(45 530 439)" class="o"/>
<ellipse cx="532.75" cy="428.25" rx="2.2" ry="1.8" transform="rotate(0 532.75 428.25)" class="t" style="fill:#111"/>
<path d="M529.2 417.8 C529.1 418.1 529.5 419.1 528.2 420.0 C527.0 420.9 523.1 421.7 521.8 423.2 C520.4 424.8 521.2 428.0 520.2 429.5 C519.2 431.0 516.5 432.0 515.8 432.5" class="o"/>
<path d="M535.8 417.0 C535.7 418.2 535.2 422.3 535.2 424.0 C535.2 425.7 535.7 426.5 535.8 427.0" class="o"/>
<path d="M548.2 416.8 C547.5 418.4 544.8 423.8 543.8 426.8 C542.7 429.7 542.2 431.2 541.8 434.2 C541.2 437.2 540.9 443.0 540.8 444.8" class="o"/>
<path d="M529.0 451.0 L528.5 463.0" class="o"/>
<path d="M538.0 444.0 L538.0 455.0" class="t"/>
<path d="M449.0 486.0 L555.0 439.0" class="o"/>
<path d="M450.5 469.5 L541.0 431.5" class="t"/>
<path d="M446.0 461.0 L470.0 450.0" class="t"/>
<path d="M421.0 470.0 C421.2 471.2 420.3 474.8 422.0 477.0 C423.7 479.2 428.2 480.8 431.0 483.0 C433.8 485.2 437.7 488.8 439.0 490.0" class="t"/>
<path d="M439.0 468.0 C439.0 471.7 438.3 484.7 439.0 490.0 C439.7 495.3 442.0 496.2 443.0 500.0 C444.0 503.8 444.8 509.3 445.0 513.0 C445.2 516.7 444.2 520.5 444.0 522.0" class="o"/>
<path d="M459.0 482.0 C459.5 483.7 461.2 489.0 462.0 492.0 C462.8 495.0 463.7 498.7 464.0 500.0" class="o"/>
<path d="M510.5 459.0 C511.2 461.8 513.8 468.7 515.0 475.5 C516.2 482.3 517.5 495.9 518.0 500.0" class="t"/>
<path d="M500.0 489.0 L545.0 471.0" class="o"/>
<path d="M502.0 494.0 L546.0 476.0" class="th"/>
<path d="M480.5 519.5 L506.0 506.0" class="t"/>
<path d="M464.0 500.0 L465.5 507.5 L473.0 515.0 L473.8 519.5 L470.0 521.8 L466.2 521.8" class="o"/>
<path d="M475.2 511.2 C475.9 511.9 478.1 513.2 479.0 515.0 C479.9 516.8 480.2 520.6 480.5 521.8" class="o"/>
<path d="M464.0 523.2 L467.0 527.0" class="t"/>
<path d="M480.5 508.2 C482.5 508.0 489.5 507.6 492.5 506.8 C495.5 505.9 497.5 503.6 498.5 503.0" class="th"/>
<ellipse cx="488.75" cy="511.6" rx="1.3" ry="1" transform="rotate(0 488.75 511.6)" class="t" style="fill:#000"/>
<path d="M447.0 517.0 C447.7 516.0 450.0 511.2 451.0 511.0 C452.0 510.8 453.2 514.5 453.0 516.0 C452.8 517.5 450.5 519.3 450.0 520.0" class="t"/>
<ellipse cx="542" cy="475.5" rx="4.5" ry="5" transform="rotate(0 542 475.5)" class="t"/>
<ellipse cx="543" cy="476" rx="2" ry="2.3" transform="rotate(0 543 476)" class="t" style="fill:#222"/>
<path d="M530.0 465.0 L540.5 471.0" class="t"/>
<path d="M525.0 457.0 L532.0 465.0" class="th"/>
<ellipse cx="527.25" cy="492.3" rx="1.4" ry="1.2" transform="rotate(0 527.25 492.3)" class="t" style="fill:#000"/>
<ellipse cx="550.9" cy="480.5" rx="1.4" ry="1.2" transform="rotate(0 550.9 480.5)" class="t" style="fill:#000"/>
<ellipse cx="513.75" cy="498.5" rx="1.4" ry="1.2" transform="rotate(0 513.75 498.5)" class="t" style="fill:#000"/>
<path d="M503.0 480.0 L507.0 488.0 L510.0 485.0" class="t"/>
<ellipse cx="432.25" cy="492.5" rx="5" ry="7" transform="rotate(-15 432.25 492.5)" class="o"/>
<ellipse cx="433" cy="493" rx="3.2" ry="5" transform="rotate(-15 433 493)" class="th"/>
<ellipse cx="407.75" cy="469.75" rx="6" ry="10.5" transform="rotate(-20 407.75 469.75)" class="t"/>
<path d="M409.0 461.0 C409.7 461.8 412.0 463.7 413.0 466.0 C414.0 468.3 414.8 472.5 415.0 475.0 C415.2 477.5 414.2 480.0 414.0 481.0" class="o2"/>
<ellipse cx="415.6" cy="482" rx="2.5" ry="1.8" transform="rotate(30 415.6 482)" class="t" style="fill:#000"/>
<ellipse cx="400.5" cy="462.75" rx="1.8" ry="1.8" transform="rotate(0 400.5 462.75)" class="t" style="fill:#000"/>
<path d="M419.0 468.9 C420.0 470.2 423.2 474.6 425.2 476.8 C427.3 478.9 429.4 480.5 431.4 482.0 C433.4 483.5 436.5 484.9 437.5 485.5" class="o"/>
<path d="M409.5 448.8 L435.8 466.2" class="t"/>
<path d="M410.0 452.0 L436.0 469.0" class="th"/>
<path d="M416.0 484.0 L422.0 492.0" class="th"/>
<ellipse cx="405" cy="487" rx="1.5" ry="1.5" transform="rotate(0 405 487)" class="t" style="fill:#222"/>
<path d="M405.0 482.0 L408.0 487.0" class="t"/>
<ellipse cx="552" cy="435" rx="2" ry="2" transform="rotate(0 552 435)" class="t"/>
<path d="M541.75 428.25 L553.75 423.75 Q557.5 425.25 559.75 429.75 Q558.25 433 553 434.25 L541 438" class="o" style="fill:#fff"/>
<path d="M553.8 423.8 L553.0 434.2" class="th"/>
<path d="M555.2 405.0 L552.2 424.5" class="t"/>
<path d="M593 471.5 L600 469 Q604 471 602.5 477 L596 479.5 Q592 477 593 471.5 Z" class="o" style="fill:#fff"/>
<path d="M596.0 470.5 L598.5 478.5" class="t"/>
<path d="M599.0 469.5 L601.0 478.0" class="t"/>
<path d="M377.4 642.9 L378.4 637.5 L382.5 634.8 L387.9 633.1 L393.3 634.8 L397.3 639.5 L400.0 647.6 L393.3 651.7 L390.6 644.9 L386.5 638.8 L383.2 637.1 L379.8 638.2 Z" class="wf"/>
<path d="M378.4 637.5 L383.2 637.1 L383.8 641.5 L377.4 642.9 Z" style="fill:#999;stroke:none"/>
<path d="M377.4 642.9 C377.6 642.0 377.5 638.9 378.4 637.5 C379.2 636.1 380.9 635.5 382.5 634.8 C384.1 634.1 386.1 633.1 387.9 633.1 C389.7 633.1 391.7 633.7 393.3 634.8 C394.9 635.9 396.2 637.4 397.3 639.5 C398.4 641.6 399.6 646.2 400.0 647.6" class="o"/>
<path d="M400.0 647.6 L393.3 651.7" class="o"/>
<path d="M393.3 651.7 C392.9 650.6 391.7 647.0 390.6 644.9 C389.5 642.8 387.7 640.1 386.5 638.8 C385.3 637.5 384.3 637.2 383.2 637.1 C382.1 637.0 380.4 638.0 379.8 638.2" class="o"/>
<path d="M377.4 642.9 L383.8 641.5" class="o"/>
<path d="M384.5 635.5 L392.6 640.2" class="o"/>
<path d="M376.0 657.8 L378.4 665.9 L382.5 670.6 L387.2 673.3 L390.6 672.6 L394.6 670.6 L398.4 666.5 L398.0 662.5 L391.3 665.2 L387.9 665.9 L384.5 661.1 L382.5 655.4 Z" class="wf"/>
<path d="M376.0 657.8 L382.5 655.4" class="o"/>
<path d="M376.0 657.8 C376.4 659.1 377.3 663.8 378.4 665.9 C379.5 668.0 381.0 669.4 382.5 670.6 C384.0 671.8 385.8 673.0 387.2 673.3 C388.6 673.6 390.0 672.7 390.6 672.6" class="o"/>
<path d="M382.5 655.4 C382.8 656.4 383.6 659.4 384.5 661.1 C385.4 662.9 386.8 664.8 387.9 665.9 C389.0 667.0 390.7 667.6 391.3 667.9" class="o"/>
<path d="M391.3 665.2 C392.4 664.8 396.8 662.3 398.0 662.5 C399.2 662.7 399.0 665.1 398.4 666.5 C397.8 667.9 395.9 669.6 394.6 670.6 C393.3 671.6 391.3 672.3 390.6 672.6" class="o"/>
<path d="M393.5 664.5 L393.0 669.0" class="th"/>
<path d="M415.4 624.9 L416.4 619.5 L420.5 616.8 L425.9 615.1 L431.3 616.8 L435.3 621.5 L438.0 629.6 L431.3 633.7 L428.6 626.9 L424.5 620.8 L421.2 619.1 L417.8 620.2 Z" class="wf"/>
<path d="M416.4 619.5 L421.2 619.1 L421.8 623.5 L415.4 624.9 Z" style="fill:#999;stroke:none"/>
<path d="M415.4 624.9 C415.6 624.0 415.5 620.9 416.4 619.5 C417.2 618.1 418.9 617.5 420.5 616.8 C422.1 616.1 424.1 615.1 425.9 615.1 C427.7 615.1 429.7 615.7 431.3 616.8 C432.9 617.9 434.2 619.4 435.3 621.5 C436.4 623.6 437.6 628.2 438.0 629.6" class="o"/>
<path d="M438.0 629.6 L431.3 633.7" class="o"/>
<path d="M431.3 633.7 C430.9 632.6 429.7 629.0 428.6 626.9 C427.5 624.8 425.7 622.1 424.5 620.8 C423.3 619.5 422.3 619.2 421.2 619.1 C420.1 619.0 418.4 620.0 417.8 620.2" class="o"/>
<path d="M415.4 624.9 L421.8 623.5" class="o"/>
<path d="M422.5 617.5 L430.6 622.2" class="o"/>
<path d="M414.0 639.8 L416.4 647.9 L420.5 652.6 L425.2 655.3 L428.6 654.6 L432.6 652.6 L436.4 648.5 L436.0 644.5 L429.3 647.2 L425.9 647.9 L422.5 643.1 L420.5 637.4 Z" class="wf"/>
<path d="M414.0 639.8 L420.5 637.4" class="o"/>
<path d="M414.0 639.8 C414.4 641.1 415.3 645.8 416.4 647.9 C417.5 650.0 419.0 651.4 420.5 652.6 C422.0 653.8 423.8 655.0 425.2 655.3 C426.6 655.6 428.0 654.7 428.6 654.6" class="o"/>
<path d="M420.5 637.4 C420.8 638.4 421.6 641.4 422.5 643.1 C423.4 644.9 424.8 646.8 425.9 647.9 C427.0 649.0 428.7 649.6 429.3 649.9" class="o"/>
<path d="M429.3 647.2 C430.4 646.8 434.8 644.3 436.0 644.5 C437.2 644.7 437.0 647.1 436.4 648.5 C435.8 649.9 433.9 651.6 432.6 652.6 C431.3 653.6 429.3 654.3 428.6 654.6" class="o"/>
<path d="M431.5 646.5 L431.0 651.0" class="th"/>
<path d="M450.4 608.9 L451.4 603.5 L455.5 600.8 L460.9 599.1 L466.3 600.8 L470.3 605.5 L473.0 613.6 L466.3 617.7 L463.6 610.9 L459.5 604.8 L456.2 603.1 L452.8 604.2 Z" class="wf"/>
<path d="M451.4 603.5 L456.2 603.1 L456.8 607.5 L450.4 608.9 Z" style="fill:#999;stroke:none"/>
<path d="M450.4 608.9 C450.6 608.0 450.5 604.9 451.4 603.5 C452.2 602.1 453.9 601.5 455.5 600.8 C457.1 600.1 459.1 599.1 460.9 599.1 C462.7 599.1 464.7 599.7 466.3 600.8 C467.9 601.9 469.2 603.4 470.3 605.5 C471.4 607.6 472.6 612.2 473.0 613.6" class="o"/>
<path d="M473.0 613.6 L466.3 617.7" class="o"/>
<path d="M466.3 617.7 C465.9 616.6 464.7 613.0 463.6 610.9 C462.5 608.8 460.7 606.1 459.5 604.8 C458.3 603.5 457.3 603.2 456.2 603.1 C455.1 603.0 453.4 604.0 452.8 604.2" class="o"/>
<path d="M450.4 608.9 L456.8 607.5" class="o"/>
<path d="M457.5 601.5 L465.6 606.2" class="o"/>
<path d="M449.0 623.8 L451.4 631.9 L455.5 636.6 L460.2 639.3 L463.6 638.6 L467.6 636.6 L471.4 632.5 L471.0 628.5 L464.3 631.2 L460.9 631.9 L457.5 627.1 L455.5 621.4 Z" class="wf"/>
<path d="M449.0 623.8 L455.5 621.4" class="o"/>
<path d="M449.0 623.8 C449.4 625.1 450.3 629.8 451.4 631.9 C452.5 634.0 454.0 635.4 455.5 636.6 C457.0 637.8 458.8 639.0 460.2 639.3 C461.6 639.6 463.0 638.7 463.6 638.6" class="o"/>
<path d="M455.5 621.4 C455.8 622.4 456.6 625.4 457.5 627.1 C458.4 628.9 459.8 630.8 460.9 631.9 C462.0 633.0 463.7 633.6 464.3 633.9" class="o"/>
<path d="M464.3 631.2 C465.4 630.8 469.8 628.3 471.0 628.5 C472.2 628.7 472.0 631.1 471.4 632.5 C470.8 633.9 468.9 635.6 467.6 636.6 C466.3 637.6 464.3 638.3 463.6 638.6" class="o"/>
<path d="M466.5 630.5 L466.0 635.0" class="th"/>
<path d="M486.4 590.9 L487.4 585.5 L491.5 582.8 L496.9 581.1 L502.3 582.8 L506.3 587.5 L509.0 595.6 L502.3 599.7 L499.6 592.9 L495.5 586.8 L492.2 585.1 L488.8 586.2 Z" class="wf"/>
<path d="M487.4 585.5 L492.2 585.1 L492.8 589.5 L486.4 590.9 Z" style="fill:#999;stroke:none"/>
<path d="M486.4 590.9 C486.6 590.0 486.5 586.9 487.4 585.5 C488.2 584.1 489.9 583.5 491.5 582.8 C493.1 582.1 495.1 581.1 496.9 581.1 C498.7 581.1 500.7 581.7 502.3 582.8 C503.9 583.9 505.2 585.4 506.3 587.5 C507.4 589.6 508.6 594.2 509.0 595.6" class="o"/>
<path d="M509.0 595.6 L502.3 599.7" class="o"/>
<path d="M502.3 599.7 C501.9 598.6 500.7 595.0 499.6 592.9 C498.5 590.8 496.7 588.1 495.5 586.8 C494.3 585.5 493.3 585.2 492.2 585.1 C491.1 585.0 489.4 586.0 488.8 586.2" class="o"/>
<path d="M486.4 590.9 L492.8 589.5" class="o"/>
<path d="M493.5 583.5 L501.6 588.2" class="o"/>
<path d="M485.0 605.8 L487.4 613.9 L491.5 618.6 L496.2 621.3 L499.6 620.6 L503.6 618.6 L507.4 614.5 L507.0 610.5 L500.3 613.2 L496.9 613.9 L493.5 609.1 L491.5 603.4 Z" class="wf"/>
<path d="M485.0 605.8 L491.5 603.4" class="o"/>
<path d="M485.0 605.8 C485.4 607.1 486.3 611.8 487.4 613.9 C488.5 616.0 490.0 617.4 491.5 618.6 C493.0 619.8 494.8 621.0 496.2 621.3 C497.6 621.6 499.0 620.7 499.6 620.6" class="o"/>
<path d="M491.5 603.4 C491.8 604.4 492.6 607.4 493.5 609.1 C494.4 610.9 495.8 612.8 496.9 613.9 C498.0 615.0 499.7 615.6 500.3 615.9" class="o"/>
<path d="M500.3 613.2 C501.4 612.8 505.8 610.3 507.0 610.5 C508.2 610.7 508.0 613.1 507.4 614.5 C506.8 615.9 504.9 617.6 503.6 618.6 C502.3 619.6 500.3 620.3 499.6 620.6" class="o"/>
<path d="M502.5 612.5 L502.0 617.0" class="th"/>
<path d="M548.4 562.4 L549.4 557.0 L553.5 554.3 L558.9 552.6 L564.3 554.3 L568.3 559.0 L571.0 567.1 L564.3 571.2 L561.6 564.4 L557.5 558.3 L554.2 556.6 L550.8 557.7 Z" class="wf"/>
<path d="M549.4 557.0 L554.2 556.6 L554.8 561.0 L548.4 562.4 Z" style="fill:#999;stroke:none"/>
<path d="M548.4 562.4 C548.6 561.5 548.5 558.4 549.4 557.0 C550.2 555.6 551.9 555.0 553.5 554.3 C555.1 553.6 557.1 552.6 558.9 552.6 C560.7 552.6 562.7 553.2 564.3 554.3 C565.9 555.4 567.2 556.9 568.3 559.0 C569.4 561.1 570.5 565.8 571.0 567.1" class="o"/>
<path d="M571.0 567.1 L564.3 571.2" class="o"/>
<path d="M564.3 571.2 C563.8 570.1 562.7 566.5 561.6 564.4 C560.5 562.2 558.7 559.6 557.5 558.3 C556.3 557.0 555.3 556.7 554.2 556.6 C553.1 556.5 551.4 557.5 550.8 557.7" class="o"/>
<path d="M548.4 562.4 L554.8 561.0" class="o"/>
<path d="M555.5 555.0 L563.6 559.7" class="o"/>
<path d="M547.0 577.2 L549.4 585.4 L553.5 590.1 L558.2 592.8 L561.6 592.1 L565.6 590.1 L569.4 586.0 L569.0 582.0 L562.3 584.7 L558.9 585.4 L555.5 580.6 L553.5 574.9 Z" class="wf"/>
<path d="M547.0 577.2 L553.5 574.9" class="o"/>
<path d="M547.0 577.2 C547.4 578.6 548.3 583.3 549.4 585.4 C550.5 587.5 552.0 588.9 553.5 590.1 C555.0 591.3 556.9 592.5 558.2 592.8 C559.6 593.1 561.0 592.2 561.6 592.1" class="o"/>
<path d="M553.5 574.9 C553.8 575.9 554.6 578.9 555.5 580.6 C556.4 582.4 557.8 584.3 558.9 585.4 C560.0 586.5 561.7 587.1 562.3 587.4" class="o"/>
<path d="M562.3 584.7 C563.4 584.2 567.8 581.8 569.0 582.0 C570.2 582.2 570.0 584.6 569.4 586.0 C568.8 587.4 566.9 589.1 565.6 590.1 C564.3 591.1 562.3 591.8 561.6 592.1" class="o"/>
<path d="M564.5 584.0 L564.0 588.5" class="th"/>
<path d="M515.0 576.9 C515.3 575.9 515.8 572.6 517.0 571.0 C518.2 569.4 520.3 567.7 522.5 567.5 C524.7 567.3 528.1 568.6 530.0 570.0 C531.9 571.4 533.0 573.7 534.0 576.0 C535.0 578.3 535.9 582.5 536.2 583.8" class="o3"/>
<path d="M515.0 576.9 C515.3 575.9 515.8 572.6 517.0 571.0 C518.2 569.4 520.3 567.7 522.5 567.5 C524.7 567.3 528.1 568.6 530.0 570.0 C531.9 571.4 533.0 573.7 534.0 576.0 C535.0 578.3 535.9 582.5 536.2 583.8" class="w1"/>
<ellipse cx="515.5" cy="576.5" rx="2" ry="1.8" transform="rotate(0 515.5 576.5)" class="t" style="fill:#000"/>
<ellipse cx="538.5" cy="601.5" rx="2" ry="1.8" transform="rotate(0 538.5 601.5)" class="t" style="fill:#000"/>
<ellipse cx="573.5" cy="548.5" rx="2" ry="1.8" transform="rotate(0 573.5 548.5)" class="t" style="fill:#000"/>
<ellipse cx="596.5" cy="571.5" rx="2" ry="1.8" transform="rotate(0 596.5 571.5)" class="t" style="fill:#000"/>
<path d="M518.1 593.8 C518.6 595.3 519.4 600.3 521.0 603.0 C522.6 605.7 525.2 609.2 527.5 610.0 C529.8 610.8 533.1 609.4 535.0 608.0 C536.9 606.6 538.1 602.9 538.8 601.9" class="o3"/>
<path d="M518.1 593.8 C518.6 595.3 519.4 600.3 521.0 603.0 C522.6 605.7 525.2 609.2 527.5 610.0 C529.8 610.8 533.1 609.4 535.0 608.0 C536.9 606.6 538.1 602.9 538.8 601.9" class="w1"/>
<path d="M573.0 548.8 C573.3 547.6 573.8 543.7 575.0 542.0 C576.2 540.3 577.9 538.9 580.0 538.8 C582.1 538.6 585.5 539.9 587.5 541.2 C589.5 542.6 590.8 544.7 592.0 547.0 C593.2 549.3 594.5 553.7 595.0 555.0" class="o3"/>
<path d="M573.0 548.8 C573.3 547.6 573.8 543.7 575.0 542.0 C576.2 540.3 577.9 538.9 580.0 538.8 C582.1 538.6 585.5 539.9 587.5 541.2 C589.5 542.6 590.8 544.7 592.0 547.0 C593.2 549.3 594.5 553.7 595.0 555.0" class="w1"/>
<path d="M576.2 565.0 C576.7 566.3 577.5 570.6 579.0 573.0 C580.5 575.4 582.8 578.5 585.0 579.4 C587.2 580.2 590.5 579.5 592.5 578.1 C594.5 576.7 596.2 572.4 596.9 571.2" class="o3"/>
<path d="M576.2 565.0 C576.7 566.3 577.5 570.6 579.0 573.0 C580.5 575.4 582.8 578.5 585.0 579.4 C587.2 580.2 590.5 579.5 592.5 578.1 C594.5 576.7 596.2 572.4 596.9 571.2" class="w1"/>
<rect x="73" y="267" width="15" height="18" fill="#d6d2d2"/>
<rect x="71" y="265" width="15" height="18" fill="#5bcfe2"/>
<text x="72.50" y="277.3" class="lt">2</text>
<rect x="161" y="180" width="15" height="18" fill="#d6d2d2"/>
<rect x="159" y="178" width="15" height="18" fill="#5bcfe2"/>
<text x="160.50" y="190.3" class="lt">3</text>
<rect x="331" y="160" width="15" height="18" fill="#d6d2d2"/>
<rect x="329" y="158" width="15" height="18" fill="#5bcfe2"/>
<text x="330.50" y="170.3" class="lt">4</text>
<rect x="157" y="491" width="15" height="18" fill="#d6d2d2"/>
<rect x="155" y="489" width="15" height="18" fill="#5bcfe2"/>
<text x="156.50" y="501.3" class="lt">5</text>
<rect x="255" y="192" width="15" height="18" fill="#d6d2d2"/>
<rect x="253" y="190" width="15" height="18" fill="#424242"/>
<text x="254.50" y="202.3" class="lt">6</text>
<rect x="279" y="184" width="15" height="18" fill="#d6d2d2"/>
<rect x="277" y="182" width="15" height="18" fill="#5bcfe2"/>
<text x="278.50" y="194.3" class="lt">7</text>
<rect x="295" y="183" width="15" height="18" fill="#d6d2d2"/>
<rect x="293" y="181" width="15" height="18" fill="#424242"/>
<text x="294.50" y="193.3" class="lt">8</text>
<rect x="615" y="254" width="15" height="18" fill="#d6d2d2"/>
<rect x="613" y="252" width="15" height="18" fill="#424242"/>
<text x="614.50" y="264.3" class="lt">9</text>
<rect x="625" y="446" width="15" height="18" fill="#d6d2d2"/>
<rect x="623" y="444" width="15" height="18" fill="#424242"/>
<path d="M627.70 456 L627.70 449.8 Q626.90 450.5 625.90 450.7 L625.90 449.1 Q627.50 448.4 628.20 446.9 L630.00 446.9 L630.00 456 Z" fill="#fff"/>
<rect x="545" y="513" width="21" height="18" fill="#d6d2d2"/>
<rect x="543" y="511" width="21" height="18" fill="#424242"/>
<path d="M547.70 523 L547.70 516.8 Q546.90 517.5 545.90 517.7 L545.90 516.1 Q547.50 515.4 548.20 513.9 L550.00 513.9 L550.00 523 Z" fill="#fff"/>
<text x="551.73" y="523.3" class="lt">0</text>
<rect x="489" y="548" width="21" height="18" fill="#d6d2d2"/>
<rect x="487" y="546" width="21" height="18" fill="#424242"/>
<path d="M491.70 558 L491.70 551.8 Q490.90 552.5 489.90 552.7 L489.90 551.1 Q491.50 550.4 492.20 548.9 L494.00 548.9 L494.00 558 Z" fill="#fff"/>
<text x="495.73" y="558.3" class="lt">0</text>
<rect x="394" y="545" width="21" height="18" fill="#d6d2d2"/>
<rect x="392" y="543" width="21" height="18" fill="#5bcfe2"/>
<path d="M396.70 555 L396.70 548.8 Q395.90 549.5 394.90 549.7 L394.90 548.1 Q396.50 547.4 397.20 545.9 L399.00 545.9 L399.00 555 Z" fill="#fff"/>
<path d="M403.93 555 L403.93 548.8 Q403.13 549.5 402.13 549.7 L402.13 548.1 Q403.73 547.4 404.43 545.9 L406.23 545.9 L406.23 555 Z" fill="#fff"/>
<rect x="609" y="591" width="21" height="18" fill="#d6d2d2"/>
<rect x="607" y="589" width="21" height="18" fill="#424242"/>
<path d="M611.70 601 L611.70 594.8 Q610.90 595.5 609.90 595.7 L609.90 594.1 Q611.50 593.4 612.20 591.9 L614.00 591.9 L614.00 601 Z" fill="#fff"/>
<text x="615.73" y="601.3" class="lt">0</text>
<rect x="541" y="617" width="21" height="18" fill="#d6d2d2"/>
<rect x="539" y="615" width="21" height="18" fill="#424242"/>
<path d="M543.70 627 L543.70 620.8 Q542.90 621.5 541.90 621.7 L541.90 620.1 Q543.50 619.4 544.20 617.9 L546.00 617.9 L546.00 627 Z" fill="#fff"/>
<text x="547.73" y="627.3" class="lt">0</text>
<rect x="525" y="689" width="22" height="18" fill="#d6d2d2"/>
<rect x="523" y="687" width="22" height="18" fill="#5bcfe2"/>
<path d="M527.70 699 L527.70 692.8 Q526.90 693.5 525.90 693.7 L525.90 692.1 Q527.50 691.4 528.20 689.9 L530.00 689.9 L530.00 699 Z" fill="#fff"/>
<text x="531.73" y="699.3" class="lt">2</text>
<circle cx="336.5" cy="167.3" r="19.2" fill="none" stroke="#0aa3e6" stroke-width="4.8"/>
<text x="661" y="148" class="fw">FORWORD</text>
<text x="287" y="522" class="fw">FORWORD</text>
<text x="598" y="274.5" class="n9">9</text>
</svg></body></html>
